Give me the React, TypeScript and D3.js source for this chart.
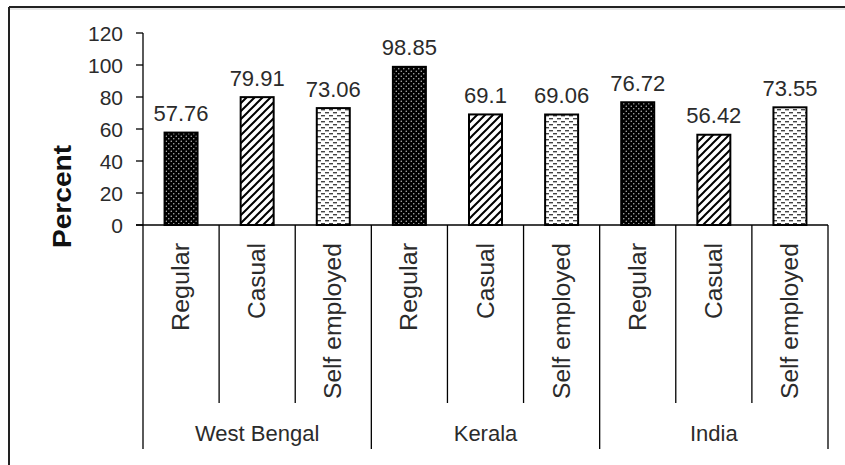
import * as d3 from 'd3';

const groups = ['West Bengal', 'Kerala', 'India'];
const types = ['Regular', 'Casual', 'Self employed'];
const values = [57.76, 79.91, 73.06, 98.85, 69.1, 69.06, 76.72, 56.42, 73.55];
const valueLabels = ['57.76', '79.91', '73.06', '98.85', '69.1', '69.06', '76.72', '56.42', '73.55'];
const yTicks = [0, 20, 40, 60, 80, 100, 120];

const W = 845;
const H = 465;
const FONT = 'Arial, "Liberation Sans", sans-serif';
const INK = '#2b2b2b';

const cats = groups.flatMap((g) => types.map((t) => `${g}|${t}`));
const x = d3.scaleBand<string>().domain(cats).range([143, 828]).paddingInner(0).paddingOuter(0);
const y = d3.scaleLinear().domain([0, 120]).range([225, 33]);
const barW = 33;
const patternOf: Record<string, string> = {
  Regular: 'url(#dots)',
  Casual: 'url(#hatch)',
  'Self employed': 'url(#dashes)',
};
// measured label lengths in the picture (px)
const labelLen: Record<string, number> = { Regular: 88, Casual: 76, 'Self employed': 156 };

export default function App() {
  const bw = x.bandwidth();
  return (
    <svg width={W} height={H} style={{ position: 'absolute', left: 0, top: 0, background: '#fff' }}>
      <defs>
        <pattern id="dots" width="5" height="5" patternUnits="userSpaceOnUse">
          <rect width="5" height="5" fill="#000" />
          <circle cx="1.25" cy="1.25" r="0.75" fill="#bdbdbd" />
          <circle cx="3.75" cy="3.75" r="0.75" fill="#bdbdbd" />
        </pattern>
        <pattern id="hatch" width="8" height="8" patternUnits="userSpaceOnUse">
          <rect width="8" height="8" fill="#fff" />
          <path d="M-2,2 l4,-4 M0,8 l8,-8 M6,10 l4,-4" stroke="#000" strokeWidth="2" />
        </pattern>
        <pattern id="dashes" width="8" height="6" patternUnits="userSpaceOnUse">
          <rect width="8" height="6" fill="#fff" />
          <rect x="1" y="1" width="4" height="1.4" fill="#444" />
          <rect x="5" y="4" width="4" height="1.4" fill="#444" />
          <rect x="-3" y="4" width="4" height="1.4" fill="#444" />
        </pattern>
      </defs>

      {/* frame */}
      <line x1={9} x2={W} y1={7} y2={7} stroke="#222" strokeWidth={2} />
      <line x1={10} x2={W} y1={9} y2={9} stroke="#d0d0d0" strokeWidth={1} />
      <line x1={9} x2={9} y1={7} y2={H} stroke="#222" strokeWidth={2} />

      {/* y axis */}
      <line x1={143} x2={143} y1={y(120)} y2={y(0)} stroke="#000" strokeWidth={1.3} />
      {yTicks.map((t) => (
        <g key={t}>
          <line x1={136} x2={143} y1={y(t)} y2={y(t)} stroke="#000" strokeWidth={1.3} />
          <text x={123} y={y(t)} dy="0.36em" textAnchor="end" fontFamily={FONT} fontSize={21} fill={INK}>
            {t}
          </text>
        </g>
      ))}
      <text
        transform={`translate(71,196.5) rotate(-90)`}
        textAnchor="middle"
        fontFamily={FONT}
        fontSize={26}
        fontWeight="bold"
        fill="#111"
        textLength={103}
        lengthAdjust="spacingAndGlyphs"
      >
        Percent
      </text>

      {/* bars */}
      {cats.map((c, i) => {
        const cx = (x(c) ?? 0) + bw / 2;
        const t = c.split('|')[1];
        return (
          <g key={c}>
            <rect
              x={cx - barW / 2}
              y={y(values[i])}
              width={barW}
              height={y(0) - y(values[i])}
              fill={patternOf[t]}
              stroke="#000"
              strokeWidth={2}
            />
            <text
              x={cx}
              y={y(values[i]) - 11.5}
              textAnchor="middle"
              fontFamily={FONT}
              fontSize={22}
              fill={INK}
            >
              {valueLabels[i]}
            </text>
          </g>
        );
      })}

      {/* category axis */}
      <line x1={136} x2={828} y1={y(0)} y2={y(0)} stroke="#000" strokeWidth={1.3} />
      {d3.range(cats.length + 1).map((i) => {
        const xx = 143 + bw * i;
        const major = i % 3 === 0;
        return (
          <line key={i} x1={xx} x2={xx} y1={y(0)} y2={major ? 449 : 403} stroke="#000" strokeWidth={1.3} />
        );
      })}
      {cats.map((c) => {
        const cx = (x(c) ?? 0) + bw / 2;
        const t = c.split('|')[1];
        return (
          <text
            key={c}
            transform={`translate(${cx + 8},243) rotate(-90)`}
            textAnchor="end"
            fontFamily={FONT}
            fontSize={23}
            fill={INK}
            textLength={labelLen[t]}
            lengthAdjust="spacingAndGlyphs"
          >
            {t}
          </text>
        );
      })}
      {groups.map((g, gi) => (
        <text
          key={g}
          x={143 + bw * (gi * 3 + 1.5)}
          y={441}
          textAnchor="middle"
          fontFamily={FONT}
          fontSize={22}
          fill={INK}
        >
          {g}
        </text>
      ))}
    </svg>
  );
}
